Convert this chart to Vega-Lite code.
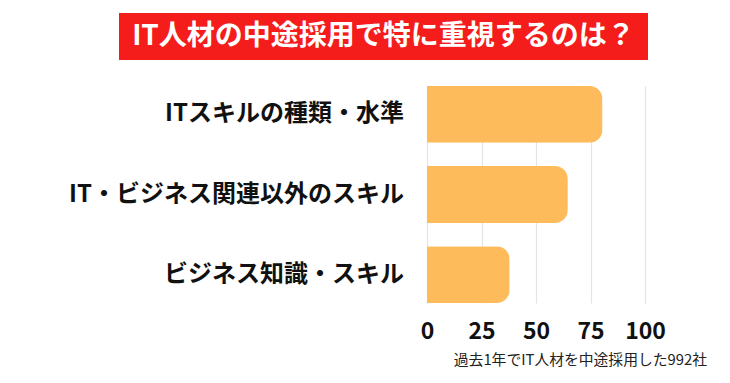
{
  "$schema": "https://vega.github.io/schema/vega-lite/v6.json",
  "background": "white",
  "padding": {"left": 69, "top": 13, "right": 0, "bottom": 0},
  "spacing": 26,
  "config": {
    "font": "Noto Sans CJK JP",
    "view": {"stroke": null}
  },
  "datasets": {
    "skills": [
      {"item": "ITスキルの種類・水準", "value": 80.5},
      {"item": "IT・ビジネス関連以外のスキル", "value": 64.6},
      {"item": "ビジネス知識・スキル", "value": 37.9}
    ]
  },
  "vconcat": [
    {
      "width": 529,
      "height": 47,
      "view": {"fill": "#f51c1c", "stroke": null},
      "data": {"values": [{"t": "IT人材の中途採用で特に重視するのは？"}]},
      "mark": {"type": "text", "font": "Noto Sans CJK JP", "fontSize": 28, "fontWeight": "bold", "color": "white"},
      "encoding": {"text": {"field": "t", "type": "nominal"}}
    },
    {
      "spacing": 16,
      "hconcat": [
        {
          "width": 285,
          "height": 217,
          "data": {"name": "skills"},
          "mark": {"type": "text", "align": "right", "baseline": "middle", "fontSize": 24, "fontWeight": "bold", "color": "#111", "font": "Noto Sans CJK JP"},
          "encoding": {
            "text": {"field": "item", "type": "nominal"},
            "x": {"datum": 1, "type": "quantitative", "scale": {"domain": [0, 1], "nice": false, "zero": false}, "axis": null},
            "y": {"field": "item", "type": "nominal", "sort": null,
                  "scale": {"type": "point", "padding": 0.355}, "axis": null}
          }
        },
        {
          "width": 218,
          "height": 217,
          "title": {
            "text": "過去1年でIT人材を中途採用した992社",
            "orient": "bottom",
            "anchor": "end",
            "frame": "group",
            "dx": 62,
            "offset": 10,
            "fontSize": 14.8,
            "fontWeight": "normal",
            "color": "#222",
            "font": "Noto Sans CJK JP"
          },
          "data": {"name": "skills"},
          "mark": {"type": "bar", "color": "#fdbb5b", "cornerRadiusEnd": 13},
          "encoding": {
            "y": {
              "field": "item", "type": "nominal", "sort": null,
              "scale": {"paddingInner": 0.29, "paddingOuter": 0},
              "axis": null
            },
            "x": {
              "field": "value", "type": "quantitative",
              "scale": {"domain": [0, 100], "nice": false},
              "axis": {"title": null, "values": [0, 25, 50, 75, 100], "domain": false, "ticks": false,
                       "grid": true, "gridColor": "#e4e4e4", "gridWidth": 1.2,
                       "labelPadding": 17, "labelFontSize": 23, "labelFontWeight": "bold", "labelColor": "#111",
                       "labelFlush": false}
            }
          }
        }
      ]
    }
  ]
}
